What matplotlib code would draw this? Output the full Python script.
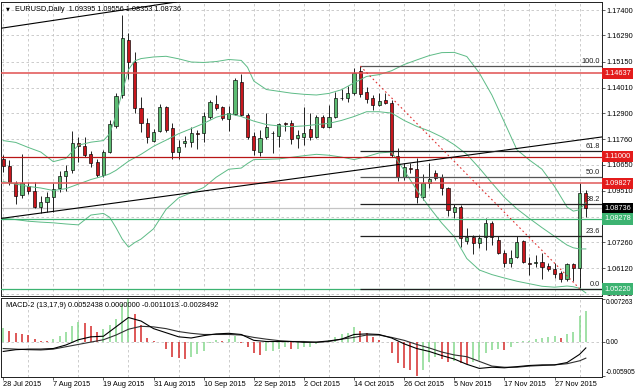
import matplotlib
matplotlib.use("Agg")
import matplotlib.pyplot as plt
import matplotlib.transforms as mtransforms
import numpy as np

# ---------------- data ----------------
opens = [1.1090,1.1059,1.0983,1.0932,1.0972,1.0951,1.0881,1.0903,1.0925,1.0962,
         1.1014,1.1041,1.1158,1.1148,1.1110,1.1076,1.1021,1.1120,1.1234,1.1369,
         1.1609,1.1514,1.1311,1.1245,1.1169,1.1213,1.1315,1.1226,1.1121,1.1158,
         1.1165,1.1203,1.1204,1.1272,1.1328,1.1315,1.1263,1.1286,1.1427,1.1282,
         1.1190,1.1121,1.1184,1.1203,1.1190,1.1245,1.1245,1.1180,1.1184,1.1219,
         1.1184,1.1272,1.1231,1.1274,1.1358,1.1355,1.1376,1.1475,1.1383,1.1355,
         1.1325,1.1347,1.1335,1.1103,1.1010,1.1050,1.1045,1.0925,1.0984,1.1027,
         1.1010,1.0962,1.0860,1.0881,1.0733,1.0748,1.0722,1.0748,1.0809,1.0736,
         1.0680,1.0637,1.0660,1.0733,1.0634,1.0636,1.0641,1.0622,1.0608,1.0591,
         1.0564,1.0631,1.0612,1.09395]
highs = [1.1107,1.1085,1.0993,1.1111,1.0990,1.0989,1.0928,1.0947,1.0983,1.1038,
         1.1063,1.1213,1.1187,1.1187,1.1126,1.1091,1.1129,1.1260,1.1376,1.1718,
         1.1638,1.1558,1.1362,1.1267,1.1219,1.1330,1.1321,1.1245,1.1173,1.1190,
         1.1231,1.1216,1.1296,1.1347,1.1369,1.1321,1.1321,1.1442,1.1461,1.1289,
         1.1209,1.1216,1.1292,1.1212,1.1248,1.1251,1.1260,1.1216,1.1315,1.1289,
         1.1282,1.1282,1.1325,1.1383,1.1394,1.1408,1.1485,1.1495,1.1403,1.1369,
         1.1376,1.1376,1.1347,1.1136,1.1071,1.1073,1.1093,1.1024,1.1071,1.1042,
         1.1024,1.0969,1.0893,1.0889,1.0787,1.0758,1.0758,1.0831,1.0820,1.0753,
         1.0692,1.0692,1.0753,1.0736,1.0662,1.0670,1.0679,1.0634,1.0634,1.0601,
         1.0636,1.0634,1.0984,1.09556]
lows = [1.1033,1.0976,1.0893,1.0919,1.0937,1.0874,1.0854,1.0858,1.0858,1.0947,
        1.0950,1.1028,1.1076,1.1098,1.1056,1.1011,1.1011,1.1114,1.1226,1.1356,
        1.1440,1.1289,1.1209,1.1158,1.1165,1.1209,1.1209,1.1088,1.1088,1.1143,
        1.1143,1.1132,1.1165,1.1263,1.1304,1.1260,1.1213,1.1282,1.1277,1.1176,
        1.1107,1.1104,1.1176,1.1114,1.1143,1.1212,1.1155,1.1136,1.1151,1.1173,
        1.1180,1.1224,1.1224,1.1267,1.1347,1.1340,1.1369,1.1359,1.1333,1.1304,
        1.1321,1.1330,1.1097,1.0995,1.0998,1.1030,1.0899,1.0911,1.0962,1.0998,
        1.0932,1.0841,1.0831,1.0704,1.0719,1.0675,1.0700,1.0692,1.0714,1.0675,
        1.0619,1.0617,1.0656,1.0636,1.0583,1.0618,1.0564,1.0602,1.0569,1.0553,
        1.0558,1.0557,1.0525,1.08353]
closes = [1.1059,1.0990,1.0930,1.0983,1.0951,1.0881,1.0903,1.0925,1.0960,1.1015,
          1.1039,1.1158,1.1148,1.1107,1.1071,1.1021,1.1119,1.1242,1.1365,1.1616,
          1.1514,1.1311,1.1245,1.1184,1.1209,1.1315,1.1216,1.1121,1.1143,1.1169,
          1.1202,1.1200,1.1277,1.1340,1.1311,1.1267,1.1289,1.1434,1.1282,1.1187,
          1.1129,1.1180,1.1231,1.1201,1.1242,1.1242,1.1176,1.1194,1.1204,1.1184,
          1.1272,1.1231,1.1274,1.1355,1.1356,1.1376,1.1466,1.1373,1.1350,1.1325,
          1.1344,1.1335,1.1107,1.1010,1.1053,1.1048,1.0925,1.0984,1.1001,1.1007,
          1.0962,1.0867,1.0879,1.0743,1.0748,1.0724,1.0743,1.0809,1.0748,1.0680,
          1.0637,1.0656,1.0729,1.0641,1.0632,1.0639,1.0619,1.0608,1.0588,1.0564,
          1.0631,1.0612,1.0940,1.08736]

# Bollinger bands sampled at bar indices
bb_idx = [0,2,4,6,8,10,12,14,16,17,18,19,20,21,22,24,26,28,30,32,34,36,38,39,40,
          42,44,46,48,50,52,54,56,58,60,62,64,66,68,70,72,74,76,78,80,82,84,86,88,
          90,91,92,93]
bb_upper = [1.1170,1.1162,1.1140,1.1120,1.1078,1.1092,1.1150,1.1163,1.1170,1.1200,
            1.1280,1.1382,1.1480,1.1518,1.1528,1.1535,1.1538,1.1527,1.1513,1.1511,
            1.1515,1.1524,1.1520,1.1490,1.1430,1.1393,1.1385,1.1377,1.1372,1.1369,
            1.1376,1.1392,1.1422,1.1450,1.1458,1.1475,1.1502,1.1522,1.1541,1.1554,
            1.1555,1.1537,1.1465,1.1369,1.1250,1.1130,1.1085,1.1045,1.0970,1.0880,
            1.0862,1.0868,1.0900]
bb_middle = [1.0991,1.0980,1.0970,1.0963,1.0952,1.0960,1.0980,1.1000,1.1015,1.1025,
             1.1040,1.1060,1.1080,1.1095,1.1110,1.1145,1.1172,1.1200,1.1222,1.1245,
             1.1272,1.1287,1.1275,1.1265,1.1255,1.1240,1.1234,1.1231,1.1234,1.1240,
             1.1245,1.1258,1.1275,1.1296,1.1296,1.1290,1.1258,1.1232,1.1212,1.1186,
             1.1152,1.1110,1.1050,1.0985,1.0922,1.0872,1.0830,1.0790,1.0752,1.0714,
             1.0702,1.0697,1.0697]
bb_lower = [1.0831,1.0825,1.0818,1.0814,1.0811,1.0806,1.0802,1.0845,1.0852,1.0835,
            1.0790,1.0740,1.0705,1.0725,1.0740,1.0785,1.0870,1.0920,1.0942,1.0965,
            1.1010,1.1045,1.1050,1.1070,1.1087,1.1088,1.1090,1.1097,1.1104,1.1110,
            1.1106,1.1098,1.1087,1.1100,1.1116,1.1120,1.1040,1.0955,1.0880,1.0810,
            1.0750,1.0655,1.0605,1.0585,1.0570,1.0556,1.0545,1.0534,1.0530,1.0535,
            1.0532,1.0525,1.0505]

# MACD panel
macd_hist = [0.00226,0.00185,0.0014,0.00128,0.00111,0.00037,0.00014,0.00005,0.00037,0.00094,
             0.00168,0.00265,0.00339,0.00311,0.00265,0.00168,0.00209,0.00282,0.0038,0.0064,
             0.007263,0.0047,0.00282,0.00055,0.00002,-0.0001,-0.0012,-0.0026,-0.0029,-0.0030,
             -0.0026,-0.0021,-0.0017,-0.0002,0.0003,0.0001,0.0004,0.0009,-0.0003,-0.0009,
             -0.0020,-0.0023,-0.0017,-0.0016,-0.0013,-0.0009,-0.0013,-0.0012,-0.0010,-0.0009,
             -0.0004,-0.0001,0.0002,0.0008,0.0013,0.0015,0.0024,0.00185,0.0014,0.0008,
             0.0003,-0.0001,-0.0019,-0.0036,-0.0046,-0.0049,-0.005905,-0.0049,-0.00345,-0.0026,
             -0.0030,-0.00345,-0.0033,-0.0037,-0.0038,-0.00345,-0.0032,-0.0020,-0.00145,-0.0013,
             -0.00145,-0.0010,-0.0003,0.0001,0.00012,0.0004,0.0006,0.0008,0.0009,0.0006,
             0.0012,0.0017,0.0043,0.0052438]
line_idx = [0,2,4,6,8,10,12,14,16,18,20,22,24,26,28,30,32,34,36,38,40,42,44,46,48,
            50,52,54,56,58,60,62,64,66,68,70,72,74,76,78,80,82,84,86,88,90,92,93]
macd_line = [-0.0017,-0.0014,-0.0013,-0.0013,-0.0012,-0.0006,0.0003,0.0008,0.0009,0.0025,
             0.0041,0.0035,0.0022,0.0015,0.0008,0.0006,0.0010,0.0013,0.0014,0.0012,
             0.0002,0.0000,0.0000,0.0000,-0.00014,-0.0001,0.0001,0.0004,0.0012,0.0013,
             0.0012,0.0006,-0.0004,-0.0012,-0.0017,-0.0024,-0.0030,-0.0039,-0.0046,-0.0044,
             -0.0045,-0.0043,-0.0041,-0.0040,-0.0040,-0.0036,-0.0022,-0.0011013]
signal_line = [-0.0012,-0.0013,-0.0014,-0.00145,-0.0013,-0.0009,-0.0005,-0.0001,0.0003,0.0011,
               0.0021,0.0026,0.0025,0.0022,0.0017,0.0014,0.0012,0.0012,0.0012,0.0011,
               0.0007,0.0004,0.00015,0.0,0.0,-0.00015,0.0,0.0004,0.0007,0.0011,
               0.0011,0.0007,0.0002,-0.0005,-0.0011,-0.0018,-0.0023,-0.0026,-0.0034,-0.0042,
               -0.0044,-0.0044,-0.0042,-0.0041,-0.0040,-0.0038,-0.0033,-0.0028492]
macd_ticks = [0.007263, 0.0, -0.005905]
macd_tick_labels = ['0.007263', '0.00', '-0.005905']

# axis labels
date_idx = [0, 8, 16, 24, 32, 40, 48, 56, 64, 72, 80, 88]
date_labels = ['28 Jul 2015', '7 Aug 2015', '19 Aug 2015', '31 Aug 2015', '10 Sep 2015',
               '22 Sep 2015', '2 Oct 2015', '14 Oct 2015', '26 Oct 2015', '5 Nov 2015',
               '17 Nov 2015', '27 Nov 2015']
price_ticks = [1.17400, 1.16290, 1.15150, 1.14010, 1.12900, 1.11760, 1.10650,
               1.09510, 1.08370, 1.07260, 1.06120, 1.05010]

# chart objects
red_levels = [1.14637, 1.11000, 1.09827]
green_levels = [1.08278, 1.05220]
bid_level = 1.08736
trend_upper = [(-0.2, 1.1661), (29.8, 1.1784)]
trend_lower = [(-0.1, 1.0831), (92.1, 1.1173)]
fib_anchor_idx = [57, 92]
fib_prices = [1.1495, 1.0524]
fib_levels = [0.0, 23.6, 38.2, 50.0, 61.8, 100.0]

# ---------------- drawing ----------------
FONT = ['Liberation Sans', 'DejaVu Sans']
plt.rcParams['font.family'] = FONT
FS = 5.3
W, H = 635, 391
fig = plt.figure(figsize=(W / 100, H / 100), dpi=100)
fig.patch.set_facecolor('white')


def frac(x0, y0, x1, y1):
    return [x0 / W, 1 - y1 / H, (x1 - x0) / W, (y1 - y0) / H]


ax = fig.add_axes(frac(1, 2, 602, 296))
ax2 = fig.add_axes(frac(1, 298, 602, 377))
XL = (-0.351, 95.58)
for a in (ax, ax2):
    a.set_xlim(*XL)
    a.set_facecolor('white')
    for s in a.spines.values():
        s.set_color('#202020')
        s.set_linewidth(0.7)
    a.set_xticks(np.arange(0, 94, 4), minor=True)
    a.grid(which='minor', axis='x', color='#c4c4c4', ls=(0, (3, 3)), lw=0.6)
    a.tick_params(which='minor', length=0)
    a.set_axisbelow(True)

ax.set_ylim(1.04915, 1.17750)
ax2.set_ylim(-0.00607, 0.007438)

# label boxes hide the tick labels beneath them
box_levels = red_levels + [bid_level] + green_levels


def hidden(t):
    return any(abs(t - b) < 0.0012 for b in box_levels) and abs(t - 1.05010) > 0.001


# price axis
ax.yaxis.tick_right()
ax.set_yticks(price_ticks)
ax.set_yticklabels(['' if hidden(t) else f'{t:.5f}' for t in price_ticks])
ax.tick_params(axis='y', which='major', length=2, width=0.5, pad=1.2,
               labelsize=FS, color='#202020')
ax.grid(which='major', axis='y', color='#c4c4c4', ls=(0, (3, 3)), lw=0.6)
ax.set_xticks([])

# candles
o = np.array(opens); h = np.array(highs); l = np.array(lows); c = np.array(closes)
x = np.arange(len(c))
up = c >= o
ax.vlines(x, l, h, color='black', lw=0.6, zorder=3)
bottom = np.minimum(o, c)
height = np.maximum(np.abs(c - o), 0.00004)
ax.bar(x, height, bottom=bottom, width=0.5,
       color=np.where(up, '#5cbc72', '#c8161d'), edgecolor='black',
       linewidth=0.45, zorder=4)

# Bollinger bands
for band in (bb_upper, bb_middle, bb_lower):
    ax.plot(bb_idx, band, color='#5dbb86', lw=0.7, zorder=5)

# horizontal levels
ax.axhline(red_levels[0], color='#e05050', lw=1.1, zorder=5)
ax.axhline(red_levels[1], color='#b81515', lw=0.9, zorder=5)
ax.axhline(red_levels[2], color='#e05858', lw=1.1, zorder=5)
for g in green_levels:
    ax.axhline(g, color='#3cb371', lw=0.9, zorder=5)
ax.axhline(bid_level, color='#c4c4c4', lw=0.9, zorder=2)

# trend lines
ax.axline(trend_upper[0], trend_upper[1], color='black', lw=0.8, zorder=6)
ax.axline(trend_lower[0], trend_lower[1], color='black', lw=0.8, zorder=6)

# fibonacci
fh, fl = fib_prices
for lv in fib_levels:
    p = fl + (fh - fl) * lv / 100.0
    col = '#555555' if lv in (100.0, 50.0) else '#202020'
    ax.hlines(p, fib_anchor_idx[0], XL[1], color=col, lw=0.9, zorder=6)
    ax.text(XL[1] - 0.3, p + 0.0004, f'{lv:.1f}', ha='right', va='bottom',
            fontsize=FS, color='#202020', zorder=7)
ax.plot(fib_anchor_idx, fib_prices, color='#e03030', lw=0.8,
        ls=(0, (1.5, 2.5)), zorder=6)

# coloured price labels on the axis
trans = mtransforms.blended_transform_factory(ax.transAxes, ax.transData)
boxes = [(lv, '#e31b1b') for lv in red_levels] + [(bid_level, '#000000')] + \
        [(lv, '#3cb371') for lv in green_levels]
for lv, col in boxes:
    ax.text(1.004, lv, f'{lv:.5f}', transform=trans, ha='left', va='center',
            fontsize=FS, color='white', clip_on=False, zorder=20,
            bbox=dict(boxstyle='square,pad=0.28', fc=col, ec=col, lw=0))

# header
ax.text(0.009, 0.976, '\u25bc', transform=ax.transAxes, fontsize=3.6,
        va='center', ha='left', family=['DejaVu Sans'], zorder=8)
ax.text(0.0233, 0.976,
        f'EURUSD,Daily  {opens[-1]:.5f} {highs[-1]:.5f} {lows[-1]:.5f} {closes[-1]:.5f}',
        transform=ax.transAxes, fontsize=FS, va='center', ha='left', zorder=8)

# MACD panel
hv = np.array(macd_hist)
rising = np.concatenate([[True], hv[1:] >= hv[:-1]])
ax2.vlines(x, 0, hv, colors=np.where(rising, '#86d98e', '#d42a2a'), lw=1.1, zorder=3)
ax2.axhline(0, color='#c4c4c4', ls=(0, (3, 3)), lw=0.6, zorder=1)
ax2.plot(line_idx, signal_line, color='#303030', lw=0.8, zorder=4)
ax2.plot(line_idx, macd_line, color='black', lw=0.8, zorder=5)
ax2.yaxis.tick_right()
ax2.set_yticks(macd_ticks)
ax2.set_yticklabels(macd_tick_labels)
ax2.tick_params(axis='y', length=2, width=0.5, pad=0.8, labelsize=4.8, color='#202020')
yl = ax2.get_yticklabels()
yl[0].set_va('top')
yl[-1].set_va('bottom')
ax2.set_xticks(date_idx)
ax2.set_xticklabels(date_labels, ha='left')
ax2.tick_params(axis='x', which='major', length=2, width=0.5, pad=1,
                labelsize=FS, color='#202020')
ax2.text(0.0083, 0.905,
         f'MACD-2 (13,17,9) {macd_hist[-1]:.7f} {0.0:.7f} {macd_line[-1]:.7f} {signal_line[-1]:.7f}',
         transform=ax2.transAxes, fontsize=FS, va='center', ha='left', zorder=8)

fig.savefig('out.png', dpi=100)
